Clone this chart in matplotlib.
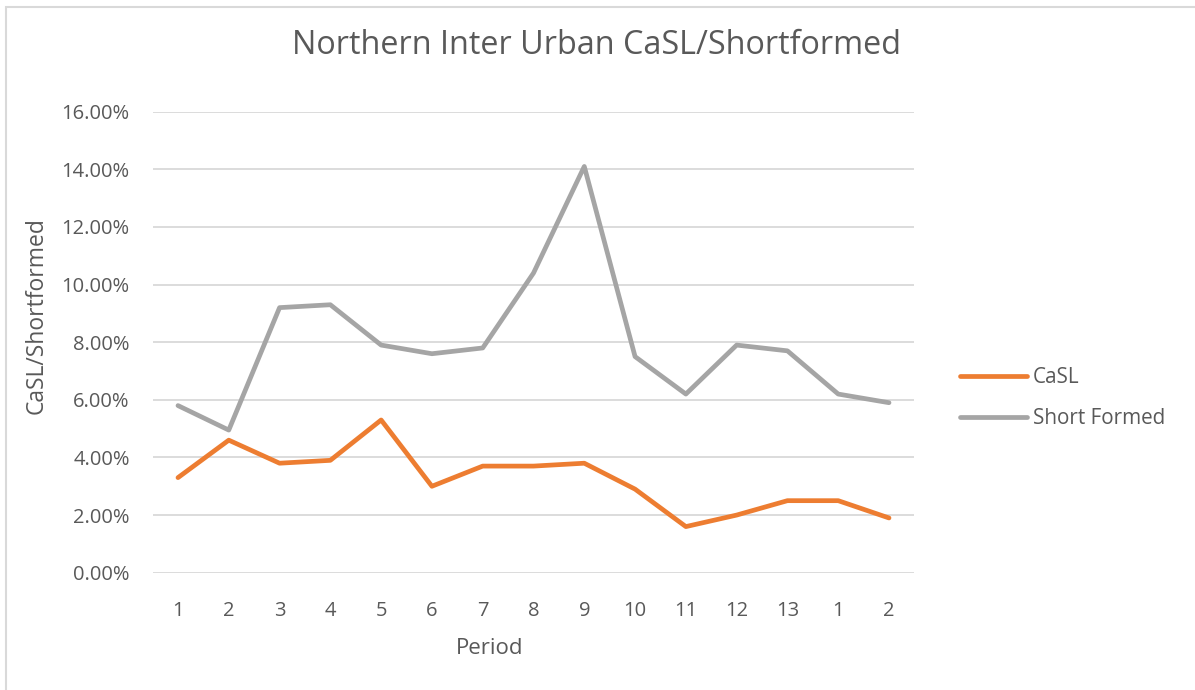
import matplotlib
matplotlib.use("Agg")
import matplotlib.pyplot as plt
from matplotlib.ticker import FuncFormatter
from matplotlib.patches import Rectangle

periods = ["1", "2", "3", "4", "5", "6", "7", "8", "9", "10", "11", "12", "13", "1", "2"]
casl = [3.3, 4.6, 3.8, 3.9, 5.3, 3.0, 3.7, 3.7, 3.8, 2.9, 1.6, 2.0, 2.5, 2.5, 1.9]
short_formed = [5.8, 4.95, 9.2, 9.3, 7.9, 7.6, 7.8, 10.4, 14.1, 7.5, 6.2, 7.9, 7.7, 6.2, 5.9]
yticks = [0, 2, 4, 6, 8, 10, 12, 14, 16]

plt.rcParams['font.family'] = ['Open Sans', 'DejaVu Sans']
TXT = '#595959'

W, H = 1195, 690
fig = plt.figure(figsize=(W / 100, H / 100), dpi=100)
fig.patch.set_facecolor('white')

# chart border
fig.patches.append(Rectangle((6 / W, -0.1), 1.2, 1 - 7 / H + 0.1, transform=fig.transFigure,
                             fill=False, edgecolor='#D9D9D9', linewidth=1.5))

left, right = 152.6, 914.4
top, bottom = 111.7, 572.7
ax = fig.add_axes([left / W, 1 - bottom / H, (right - left) / W, (bottom - top) / H])

x = list(range(len(periods)))
ax.plot(x, casl, color='#ED7D31', lw=3.4, solid_capstyle='round', solid_joinstyle='round', label='CaSL')
ax.plot(x, short_formed, color='#A5A5A5', lw=3.4, solid_capstyle='round', solid_joinstyle='round', label='Short Formed')

ax.set_xlim(-0.5, len(periods) - 0.5)
ax.set_ylim(0, 16)
ax.set_yticks(yticks)
ax.yaxis.set_major_formatter(FuncFormatter(lambda v, p: f"{v:.2f}%"))
ax.set_xticks(x)
ax.set_xticklabels(periods)
ax.grid(axis='y', color='#D9D9D9', lw=1.3)
ax.set_axisbelow(True)
for s in ax.spines.values():
    s.set_visible(False)
ax.tick_params(axis='both', length=0, labelsize=14.5, colors=TXT)
ax.tick_params(axis='y', pad=16.5)
ax.tick_params(axis='x', pad=20.5)

fig.text(597 / W, 1 - 46 / H, "Northern Inter Urban CaSL/Shortformed", ha='center', va='center',
         fontsize=23.3, color=TXT)
fig.text(490 / W, 1 - 648 / H, "Period", ha='center', va='center', fontsize=16, color=TXT)
fig.text(37 / W, 1 - 316 / H, "CaSL/Shortformed", ha='center', va='center', rotation=90,
         fontsize=16.5, color=TXT)

leg = fig.legend(loc='upper left', bbox_to_anchor=(952 / W, 1 - 359 / H), frameon=False,
                 fontsize=14.9, labelcolor=TXT, handlelength=3.2, handletextpad=0.3,
                 labelspacing=0.95, borderaxespad=0)

fig.savefig('out.png', dpi=100, facecolor='white')
